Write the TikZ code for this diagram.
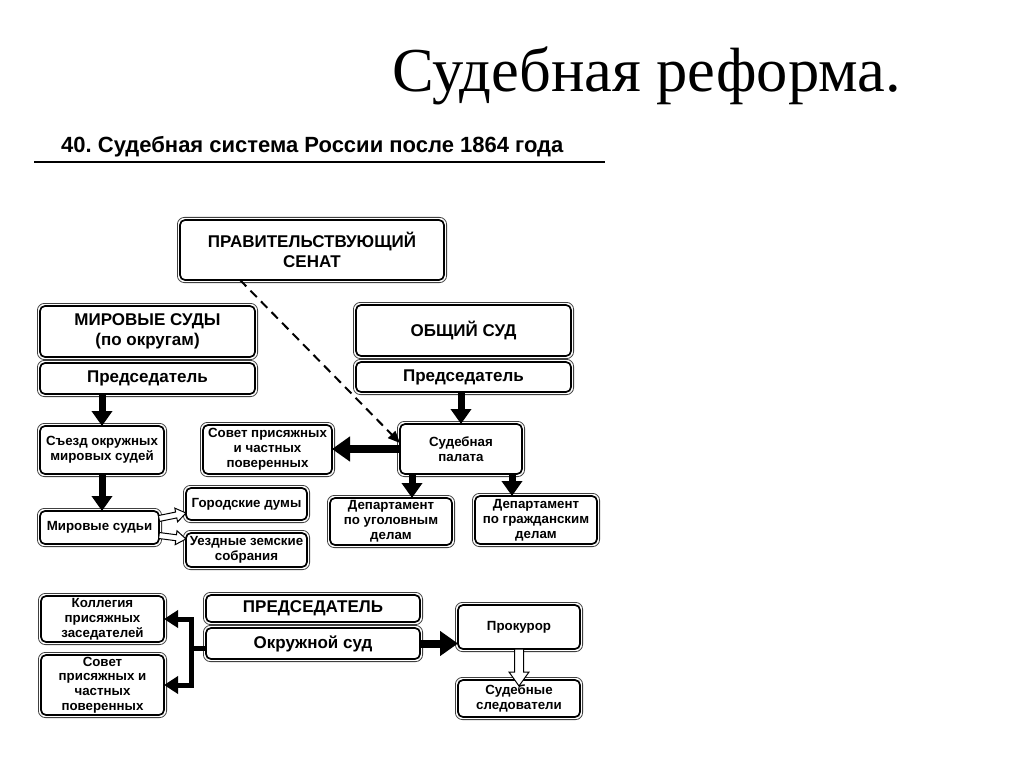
\documentclass[tikz,border=0pt]{standalone}
\usepackage{fontspec}
\setmainfont{Liberation Sans}
\newfontfamily\titlefont{Liberation Serif}
\usetikzlibrary{arrows.meta,calc}
\frenchspacing
\newcommand\hollowarr[5]{%
  \draw[line width=1pt, fill=white, line join=miter]
    let \p1=(#1), \p2=(#2), \n1={atan2(\y2-\y1,\x2-\x1)}, \n2={veclen(\x2-\x1,\y2-\y1)} in
    [shift={(\p1)}, rotate=\n1]
    (0pt,-#3pt) -- (\n2-#5pt,-#3pt) -- (\n2-#5pt,-#4pt) -- (\n2,0pt) -- (\n2-#5pt,#4pt) -- (\n2-#5pt,#3pt) -- (0pt,#3pt) -- cycle;}
\begin{document}
\begin{tikzpicture}[x=1pt,y=-1pt,
  box/.style={draw=black, line width=1.7pt, rounded corners=5pt, fill=white, align=center,
    inner sep=0pt, outer sep=0pt, font=\bfseries\fontsize{13.3}{14.8}\selectfont},
  bigbox/.style={box, font=\bfseries\fontsize{17}{20}\selectfont},
  ring/.style={draw=black!75, line width=0.8pt, rounded corners=7pt},
  tarr/.style={line width=7pt, -{Triangle[length=15pt,width=20pt]}},
  warr/.style={line width=8pt, -{Triangle[length=18pt,width=24pt]}},
  barr/.style={line width=5pt, line join=miter, -{Triangle[length=14pt,width=17pt]}}]
\useasboundingbox (0,0) rectangle (1024,767);
\fill[white] (0,0) rectangle (1024,767);

\node[anchor=base west, inner sep=0pt, font=\titlefont\fontsize{62.5}{62.5}\selectfont] (title) at (392,92) {Судебная реформа.};
\node[anchor=base west, inner sep=0pt, font=\bfseries\fontsize{22}{22}\selectfont] (sub) at (61,153) {40. Судебная система России после 1864 года};
\coordinate (rl) at (34,162);
\coordinate (rr) at (605,162);
\draw[line width=2.2pt] (rl) -- (rr);

\node[bigbox, minimum width=264pt, minimum height=60pt] (senate) at (312,250) {ПРАВИТЕЛЬСТВУЮЩИЙ\\СЕНАТ};
\node[bigbox, minimum width=215pt, minimum height=51pt] (mirtop) at (147.5,331.5) {МИРОВЫЕ СУДЫ\\(по округам)};
\node[bigbox, minimum width=215pt, minimum height=31pt] (mirpred) at (147.5,378.5) {Председатель};
\node[bigbox, minimum width=215pt, minimum height=51pt] (obshtop) at (463.5,330.5) {ОБЩИЙ СУД};
\node[bigbox, minimum width=215pt, minimum height=30pt] (obshpred) at (463.5,377) {Председатель};
\node[box, minimum width=124pt, minimum height=48pt] (sjezd) at (102,450) {Съезд окружных\\мировых судей};
\node[box, minimum width=119pt, minimum height=33pt] (mirsud) at (99.5,527.5) {Мировые судьи};
\node[box, minimum width=121pt, minimum height=32pt] (gor) at (246.5,504) {Городские думы};
\node[box, minimum width=121pt, minimum height=34pt] (uezd) at (246.5,550) {Уездные земские\\собрания};
\node[box, minimum width=129pt, minimum height=49pt] (sovet1) at (267.5,449.5) {Совет присяжных\\и частных\\поверенных};
\node[box, minimum width=122pt, minimum height=50pt] (palata) at (461,449) {Судебная\\палата};
\node[box, minimum width=122pt, minimum height=47pt] (dept1) at (391,521.5) {Департамент\\по уголовным\\делам};
\node[box, minimum width=122pt, minimum height=48pt] (dept2) at (536,520) {Департамент\\по гражданским\\делам};
\node[bigbox, minimum width=214pt, minimum height=27pt] (predB) at (313,608.5) {ПРЕДСЕДАТЕЛЬ};
\node[bigbox, minimum width=214pt, minimum height=31pt] (okrug) at (313,643.5) {Окружной суд};
\node[box, minimum width=123pt, minimum height=46pt] (koll) at (102.5,619) {Коллегия\\присяжных\\заседателей};
\node[box, minimum width=123pt, minimum height=60pt] (sovet2) at (102.5,685) {Совет\\присяжных и\\частных\\поверенных};
\node[box, minimum width=122pt, minimum height=44pt] (prok) at (519,627) {Прокурор};
\node[box, minimum width=122pt, minimum height=37pt] (sled) at (519,698.5) {Судебные\\следователи};

\foreach \b in {senate,mirtop,mirpred,obshtop,obshpred,sjezd,mirsud,gor,uezd,sovet1,palata,dept1,dept2,predB,okrug,koll,sovet2,prok,sled}
  \draw[ring] ([shift={(-2.6pt,-2.6pt)}]\b.south west) rectangle ([shift={(2.6pt,2.6pt)}]\b.north east);

\draw[line width=2pt, dash pattern=on 9pt off 6pt, -{Triangle[length=12pt,width=10pt]}]
  ([xshift=-72pt]senate.south) -- ([yshift=-19pt]palata.north west);

\draw[tarr] (sjezd.north |- mirpred.south) -- (sjezd.north);
\draw[tarr] (sjezd.south) -- (sjezd.south |- mirsud.north);
\draw[tarr] (palata.north |- obshpred.south) -- (palata.north);
\draw[warr] (palata.west) -- (palata.west -| sovet1.east);
\draw[tarr] ([xshift=-49pt]palata.south) -- ([xshift=-49pt]palata.south |- dept1.north);
\draw[tarr] ([xshift=51pt]palata.south) -- ([xshift=51pt]palata.south |- dept2.north);
\draw[warr] (okrug.east) -- (okrug.east -| prok.west);

\coordinate (br) at ($(okrug.west)+(-15,5)$);
\draw[line width=5pt] ([yshift=-5pt]okrug.west) -- (br);
\draw[barr] (br) |- (koll.east);
\draw[barr] (br) |- (sovet2.east);

\hollowarr{[yshift=9pt]mirsud.east}{[yshift=-9pt]gor.west}{3}{7}{10}
\hollowarr{[yshift=-8pt]mirsud.east}{[yshift=11pt]uezd.west}{3}{7}{10}
\hollowarr{prok.south}{[yshift=-6pt]sled.north}{4.5}{10}{14}
\end{tikzpicture}
\end{document}
